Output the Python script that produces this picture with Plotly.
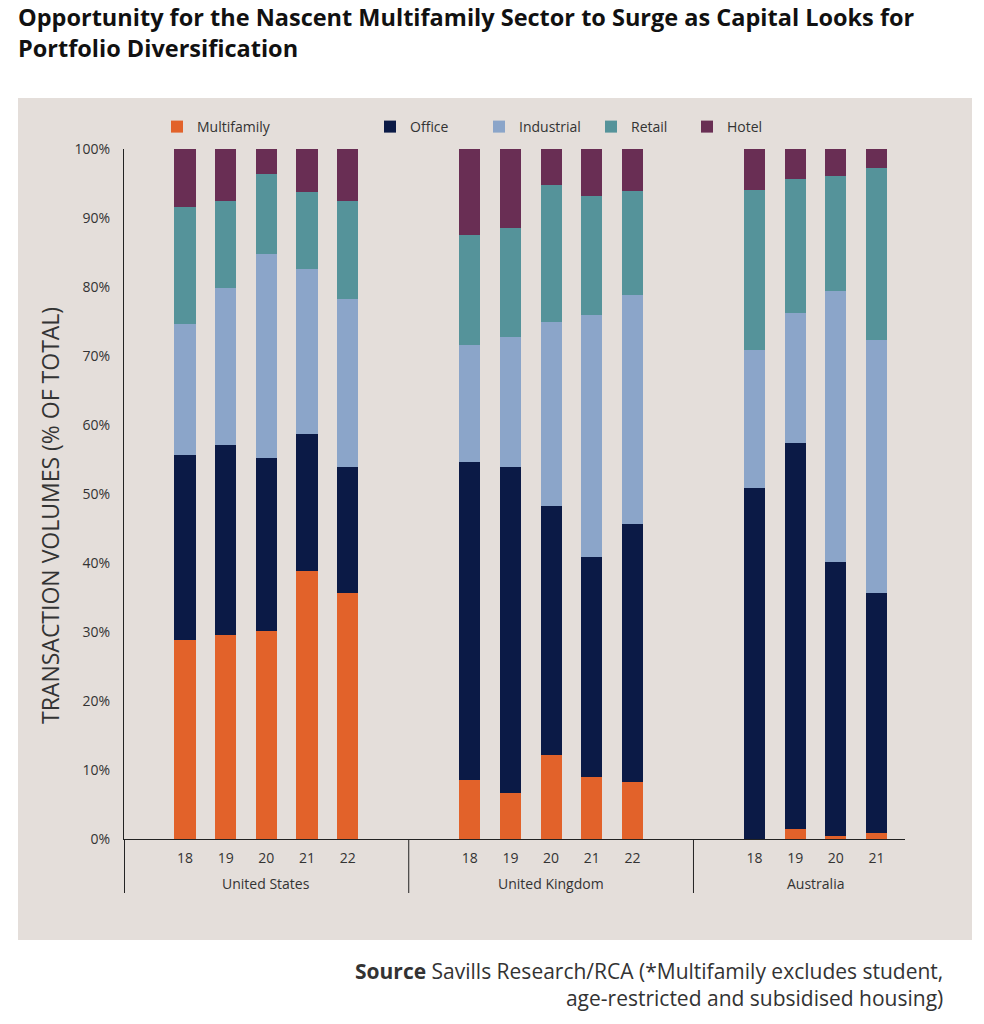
import plotly.graph_objects as go

# ---- data ----
countries = ["United States", "United Kingdom", "Australia"]
years = {
    "United States": ["18", "19", "20", "21", "22"],
    "United Kingdom": ["18", "19", "20", "21", "22"],
    "Australia": ["18", "19", "20", "21"],
}
sectors = ["Multifamily", "Office", "Industrial", "Retail", "Hotel"]
multifamily = [28.9, 29.5, 30.2, 38.9, 35.7, 8.6, 6.7, 12.2, 9.0, 8.2, 0.0, 1.5, 0.5, 0.8]
office = [26.8, 27.6, 25.0, 19.8, 18.2, 46.1, 47.2, 36.1, 31.8, 37.4, 50.9, 55.9, 39.7, 34.9]
industrial = [18.9, 22.7, 29.6, 23.9, 24.4, 16.9, 18.9, 26.6, 35.1, 33.3, 19.9, 18.8, 39.2, 36.6]
retail = [17.0, 12.7, 11.6, 11.2, 14.1, 15.9, 15.8, 19.9, 17.3, 15.0, 23.2, 19.4, 16.7, 24.9]
hotel = [8.4, 7.5, 3.6, 6.2, 7.6, 12.5, 11.4, 5.2, 6.8, 6.1, 6.0, 4.4, 3.9, 2.8]
y_ticks = [0, 10, 20, 30, 40, 50, 60, 70, 80, 90, 100]
y_tick_labels = ["0%", "10%", "20%", "30%", "40%", "50%", "60%", "70%", "80%", "90%", "100%"]

colors = ["#E2622A", "#0B1A46", "#8BA5C9", "#55939A", "#692E54"]
values = [multifamily, office, industrial, retail, hotel]

# category layout: each country group gets a blank spacer slot on each side
bar_cats, bar_years = [], []
all_cats = []
group_centers, group_bounds = {}, []
for c in countries:
    group_bounds.append(len(all_cats) - 0.5)
    all_cats.append(c + "|pad_a")
    idx = []
    for yv in years[c]:
        cat = c + "|" + yv
        bar_cats.append(cat); bar_years.append(yv)
        idx.append(len(all_cats))
        all_cats.append(cat)
    group_centers[c] = sum(idx) / len(idx)
    all_cats.append(c + "|pad_b")

FONT = "Open Sans"
TXT = "#333333"
W, H = 984, 1024
L, R, T, B = 124, 79, 149, 185
PW, PH = W - L - R, H - T - B

fig = go.Figure()

legend_text_px = [197, 410, 519, 631, 727]
legend_names = ["legend", "legend2", "legend3", "legend4", "legend5"]
for name, vals, col, lg in zip(sectors, values, colors, legend_names):
    fig.add_trace(go.Bar(x=bar_cats, y=vals, name=name, marker=dict(color=col, line=dict(width=0)),
                         legend=lg))

legends = {}
for lg, px in zip(legend_names, legend_text_px):
    legends[lg] = dict(x=(px - 40 - L) / PW, xanchor="left", y=1 + (149 - 127) / PH, yanchor="middle",
                       orientation="h", bgcolor="rgba(0,0,0,0)", font=dict(family=FONT, size=14, color=TXT))

shapes = [dict(type="rect", xref="paper", yref="paper", layer="below",
               x0=(18 - L) / PW, x1=(972 - L) / PW, y0=(H - B - 940) / PH, y1=(H - B - 98) / PH,
               fillcolor="#E4DEDA", line=dict(width=0))]
for i, xb in enumerate(group_bounds):
    shapes.append(dict(type="line", xref="x", yref="paper", x0=xb + (0.012 if i == 0 else 0),
                       x1=xb + (0.012 if i == 0 else 0), y0=0, y1=-(893 - 839) / PH,
                       line=dict(color="#222222", width=1)))

annotations = [dict(text="<b>Source</b> Savills Research/RCA (*Multifamily excludes student,<br>age-restricted and subsidised housing)",
                    xref="paper", yref="paper", x=(945 - L) / PW, y=(H - B - 955) / PH, xanchor="right", yanchor="top",
                    align="right", showarrow=False, font=dict(family="Open Sans", size=21, color="#333333")),
               dict(text="TRANSACTION VOLUMES (% OF TOTAL)", textangle=-90, xref="paper", yref="paper",
                    x=(50 - L) / PW, y=(H - B - 516) / PH, xanchor="center", yanchor="middle", showarrow=False,
                    font=dict(family=FONT, size=23, color=TXT))]
for c in countries:
    annotations.append(dict(text=c, xref="x", yref="paper", x=group_centers[c], y=-(883 - 839) / PH,
                            xanchor="center", yanchor="middle", showarrow=False,
                            font=dict(family=FONT, size=14, color=TXT)))

fig.update_layout(
    width=W, height=H,
    margin=dict(l=L, r=R, t=T, b=B),
    paper_bgcolor="white", plot_bgcolor="rgba(0,0,0,0)",
    barmode="stack", bargap=0.48,
    font=dict(family=FONT, color=TXT),
    title=dict(text="Opportunity for the Nascent Multifamily Sector to Surge as Capital Looks for<br>Portfolio Diversification",
               x=18 / W, xanchor="left", xref="container", y=1 - 26 / H, yanchor="top", yref="container",
               font=dict(family="Open Sans", size=23.5, color="#111111", weight="bold")),
    xaxis=dict(type="category", categoryorder="array", categoryarray=all_cats, range=[-0.5, len(all_cats) - 1.3],
               tickvals=bar_cats, ticktext=bar_years,
               showline=True, linecolor="#222222", linewidth=1.3,
               showgrid=False, zeroline=False, ticks="", ticklabelstandoff=6,
               tickfont=dict(family=FONT, size=14, color=TXT)),
    yaxis=dict(range=[0, 100], tickvals=y_ticks, ticktext=y_tick_labels, showline=True, linecolor="#222222",
               linewidth=1, showgrid=False, zeroline=False, ticks="", ticklabelstandoff=10,
               tickfont=dict(family=FONT, size=14, color=TXT)),
    shapes=shapes,
    annotations=annotations,
    showlegend=True,
    **legends,
)

fig.write_html("out.html", config={"displayModeBar": False},
               post_script="document.body.style.margin='0px';")
